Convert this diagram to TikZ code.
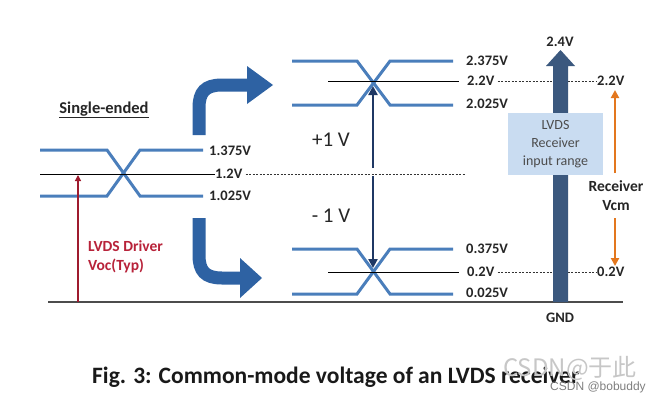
\documentclass[tikz,border=0pt]{standalone}
\usepackage{fontspec}
\setmainfont{Carlito}
\newfontfamily\cjkfont{Noto Sans CJK SC}
\newfontfamily\wmfont{Liberation Sans}
\usetikzlibrary{arrows.meta}
\definecolor{wave}{HTML}{4A7EBB}
\definecolor{bendblue}{HTML}{2E62A3}
\definecolor{navy}{HTML}{1F3864}
\definecolor{slate}{HTML}{3B587E}
\definecolor{boxblue}{HTML}{C9DCF1}
\definecolor{orng}{HTML}{E3771E}
\definecolor{drvred}{HTML}{9E1B2E}
\definecolor{txtred}{HTML}{B8233A}
\begin{document}
\begin{tikzpicture}[x=1pt,y=-1pt,
  lbl/.style={font=\bfseries\fontsize{14.5}{16}\selectfont, text=black!85, inner sep=0pt, anchor=west},
  wv/.style={draw=wave, line width=3pt},
  midline/.style={draw=black, line width=0.8pt},
  dashln/.style={draw=black!80, dash pattern=on 2pt off 1.5pt, line width=0.6pt},
  bendline/.style={draw=bendblue, line width=13pt},
  vdiff/.style={draw=navy, line width=2.5pt, -{Triangle[length=9pt,width=9pt]}},
  vcm/.style={draw=orng, line width=2.2pt, -{Triangle[length=8pt,width=8pt]}}]
\useasboundingbox[fill=white] (0,0) rectangle (660,402);

% ground line
\coordinate (g0) at (48,302);
\coordinate (g1) at (623,302);
\draw[black!70, line width=1.2pt] (g0) -- (g1);

% ---------------- left single-ended waveform
\node[font=\bfseries\fontsize{16.5}{18}\selectfont, text=black!85, inner sep=0pt] (se) at (104,110) {\underline{Single-ended}};
\draw[wv] (40,150) -- (107,150) -- (140,196) -- (203,196);
\draw[wv] (40,196) -- (107,196) -- (140,150) -- (203,150);
\coordinate (l0) at (40,174);
\node[lbl] (l1375) at (209,151) {1.375V};
\node[lbl] (l12) at (215,174) {1.2V};
\node[lbl] (l1025) at (209,196) {1.025V};
\draw[midline] (l0) -- (l12.west);
\coordinate (d0) at (465,174);
\draw[dashln] ([xshift=3pt]l12.east) -- (d0);

% red arrow + text
\coordinate (r0) at (78,302);
\coordinate (r1) at (78,175);
\draw[drvred, line width=1.3pt, -{Triangle[length=6pt,width=6pt]}] (r0) -- (r1);
\node[font=\bfseries\fontsize{15.5}{19.5}\selectfont, text=txtred, align=left, anchor=west, inner sep=0pt] (drv) at (88,257) {LVDS Driver\\Voc(Typ)};

% curved arrows
\draw[bendline] (199,135) -- (199,108) .. controls (199,92) and (205,85) .. (222,85) -- (250,85);
\fill[bendblue] (247,66) -- (273,85) -- (247,104) -- cycle;
\draw[bendline] (199,218) -- (199,255) .. controls (199,271) and (205,278) .. (222,278) -- (243,278);
\fill[bendblue] (240,258) -- (262,278) -- (240,298) -- cycle;

% ---------------- upper receiver waveform
\draw[wv] (292,61) -- (357,61) -- (390,105) -- (453,105);
\draw[wv] (292,105) -- (357,105) -- (390,61) -- (453,61);
\coordinate (u0) at (328,81);
\node[lbl] (u2375) at (466,61) {2.375V};
\node[lbl] (u22) at (467,81) {2.2V};
\node[lbl] (u2025) at (466,104) {2.025V};
\draw[midline] (u0) -- ([xshift=-8pt]u22.west);
\node[lbl] (r22) at (597,81) {2.2V};
\draw[dashln] ([xshift=3pt]u22.east) -- (r22.west);

% ---------------- lower receiver waveform
\draw[wv] (292,249) -- (357,249) -- (390,294) -- (453,294);
\draw[wv] (292,294) -- (357,294) -- (390,249) -- (453,249);
\coordinate (b0) at (328,272);
\node[lbl] (b0375) at (466,249) {0.375V};
\node[lbl] (b02) at (467,272) {0.2V};
\node[lbl] (b0025) at (466,293) {0.025V};
\draw[midline] (b0) -- ([xshift=-8pt]b02.west);
\node[lbl] (r02) at (597,272) {0.2V};
\draw[dashln] ([xshift=3pt]b02.east) -- (r02.west);

% differential arrows
\coordinate (pa) at (373,168);
\coordinate (pb) at (373,86);
\coordinate (ma) at (373,176);
\coordinate (mb) at (373,268);
\draw[vdiff] (pa) -- (pb);
\draw[vdiff] (ma) -- (mb);
\node[font=\fontsize{21}{24}\selectfont, text=black!85] (plus) at (331,140) {+1 V};
\node[font=\fontsize{21}{24}\selectfont, text=black!85] (minus) at (331,216) {- 1 V};

% ---------------- big supply arrow
\fill[slate] (553,302) -- (553,66) -- (546,66) -- (560.5,50) -- (575,66) -- (568,66) -- (568,302) -- cycle;
\node[font=\bfseries\fontsize{14.5}{16}\selectfont, text=black!85] (v24) at (560,42) {2.4V};
\node[font=\bfseries\fontsize{14.5}{16}\selectfont, text=black!85] (gnd) at (560,318) {GND};
\node[fill=boxblue, minimum width=95pt, minimum height=62pt, inner sep=0pt, align=center,
      font=\fontsize{14}{18}\selectfont, text=black!70] (box) at (555.5,144) {LVDS\\Receiver\\input range};

% receiver Vcm
\node[font=\bfseries\fontsize{15.5}{19}\selectfont, text=black!85, align=center] (rvcm) at (616,196) {Receiver\\Vcm};
\coordinate (o1) at (615,173);
\coordinate (o2) at (615,90);
\coordinate (o3) at (615,218);
\coordinate (o4) at (615,266);
\draw[vcm] (o1) -- (o2);
\draw[vcm] (o3) -- (o4);

% caption
\node[font=\bfseries\fontsize{23.5}{28}\selectfont, text=black!90, anchor=west, inner sep=0pt] (cap) at (92,377) {Fig. 3: Common-mode voltage of an LVDS receiver};
\node[font=\cjkfont\fontsize{24}{26}\selectfont, text=black!22, anchor=west, inner sep=0pt] (wm1) at (503,368) {CSDN@于此};
\node[font=\wmfont\fontsize{12}{14}\selectfont, text=black!50, anchor=west, inner sep=0pt] (wm2) at (550,387) {CSDN @bobuddy};
\end{tikzpicture}
\end{document}
